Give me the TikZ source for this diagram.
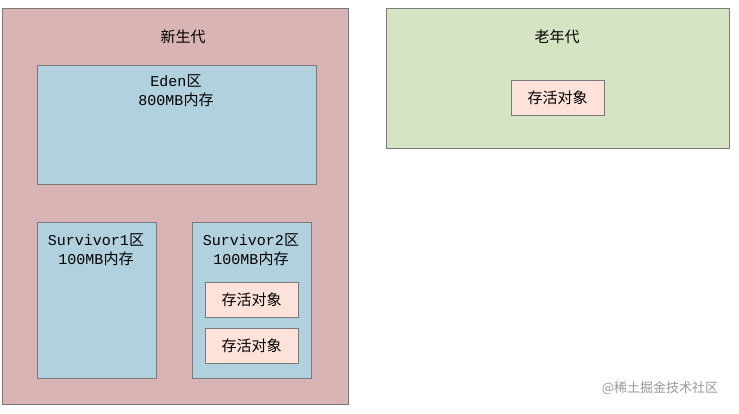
\documentclass[tikz,border=0pt]{standalone}
\usepackage{fontspec}
\newfontfamily\cjk{Noto Sans CJK SC}
\newfontfamily\mono{Liberation Mono}
\definecolor{young}{HTML}{D9B4B4}
\definecolor{blu}{HTML}{B1D1DF}
\definecolor{old}{HTML}{D5E4C2}
\definecolor{live}{HTML}{FCE2D8}
\definecolor{edge}{HTML}{7A7A7A}
\begin{document}
\begin{tikzpicture}[x=1pt,y=-1pt,font=\fontsize{15}{19}\selectfont,
  area/.style={draw=edge,line width=0.8pt},
  obj/.style={area,fill=live,minimum width=93pt,minimum height=35pt,font=\fontsize{15}{19}\selectfont\cjk}]
\useasboundingbox[fill=white] (0,0) rectangle (739,413);
\node[area,fill=young,anchor=north west,minimum width=346pt,minimum height=396pt] (young) at (2,8) {};
\node (yt) at (183,37) {\cjk 新生代};
\node[area,fill=blu,anchor=north west,minimum width=279pt,minimum height=119pt] (eden) at (37,65) {};
\node[align=center] (et) at (176,91) {{\mono Eden}{\cjk 区}\\{\mono 800MB}{\cjk 内存}};
\node[area,fill=blu,anchor=north west,minimum width=119pt,minimum height=156pt] (s1) at (37,222) {};
\node[align=center] (s1t) at (96,250) {{\mono Survivor1}{\cjk 区}\\{\mono 100MB}{\cjk 内存}};
\node[area,fill=blu,anchor=north west,minimum width=119pt,minimum height=156pt] (s2) at (192,222) {};
\node[align=center] (s2t) at (251,250) {{\mono Survivor2}{\cjk 区}\\{\mono 100MB}{\cjk 内存}};
\node[obj] (o1) at (251.5,300) {存活对象};
\node[obj] (o2) at (251.5,345.5) {存活对象};
\node[area,fill=old,anchor=north west,minimum width=343pt,minimum height=140pt] (old) at (386,8) {};
\node (ot) at (557,37) {\cjk 老年代};
\node[obj] (o3) at (557.5,97.5) {存活对象};
\node[text=gray!80,font=\fontsize{13}{15}\selectfont\cjk] (wm) at (660,388) {@稀土掘金技术社区};
\end{tikzpicture}
\end{document}
